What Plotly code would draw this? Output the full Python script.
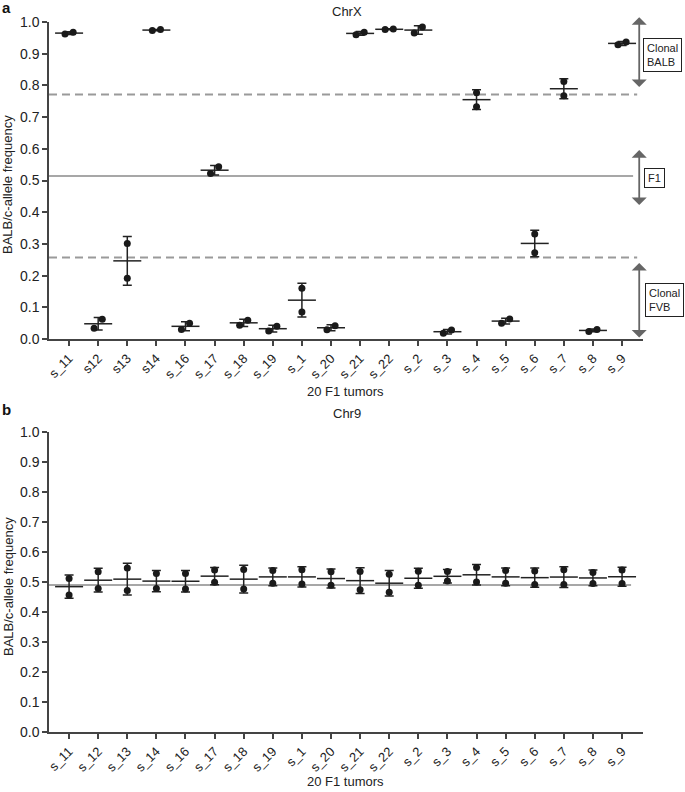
import numpy as np
import plotly.graph_objects as go

# ---- data (two replicate measurements per tumor) ----
tumors_chrx = ["s_11", "s12", "s13", "s14", "s_16", "s_17", "s_18", "s_19", "s_1", "s_20",
               "s_21", "s_22", "s_2", "s_3", "s_4", "s_5", "s_6", "s_7", "s_8", "s_9"]
tumors_chr9 = ["s_11", "s_12", "s_13", "s_14", "s_16", "s_17", "s_18", "s_19", "s_1", "s_20",
               "s_21", "s_22", "s_2", "s_3", "s_4", "s_5", "s_6", "s_7", "s_8", "s_9"]

chrx_rep1 = [0.962, 0.034, 0.192, 0.973, 0.030, 0.522, 0.043, 0.025, 0.085, 0.029,
             0.960, 0.976, 0.965, 0.018, 0.733, 0.050, 0.272, 0.767, 0.024, 0.928]
chrx_rep2 = [0.968, 0.062, 0.301, 0.976, 0.050, 0.543, 0.059, 0.040, 0.160, 0.042,
             0.968, 0.978, 0.984, 0.028, 0.777, 0.063, 0.331, 0.812, 0.030, 0.937]

chr9_rep1 = [0.457, 0.478, 0.472, 0.478, 0.477, 0.499, 0.477, 0.496, 0.493, 0.489,
             0.474, 0.466, 0.489, 0.503, 0.500, 0.496, 0.492, 0.492, 0.495, 0.495]
chr9_rep2 = [0.512, 0.534, 0.547, 0.528, 0.528, 0.540, 0.542, 0.538, 0.541, 0.534,
             0.535, 0.526, 0.536, 0.535, 0.548, 0.538, 0.537, 0.541, 0.532, 0.540]

# reference levels
chrx_fvb_cut = 0.257
chrx_f1 = 0.514
chrx_balb_cut = 0.771
chr9_f1 = 0.49

FONT = "Liberation Sans, Arial, Helvetica, sans-serif"
DARK = "#222222"
XR = [-0.69, 19.72]
W, H = 685, 792

fig = go.Figure()


def add_panel(rep1, rep2, xa, ya):
    r1 = np.array(rep1)
    r2 = np.array(rep2)
    idx = np.arange(len(r1))
    both = np.vstack([r1, r2])
    mean = both.mean(axis=0)
    sd = both.std(axis=0, ddof=1)
    # spread overlapping points sideways like a scatter-dot plot
    jit = np.where(np.abs(r2 - r1) < 0.031, 0.14, 0.0)
    fig.add_trace(go.Scatter(
        x=idx, y=mean, mode="markers", xaxis=xa, yaxis=ya,
        marker=dict(symbol="line-ew", size=20, line=dict(width=1.5, color=DARK)),
        error_y=dict(type="data", array=sd, visible=True, thickness=1.5,
                     width=4.5, color=DARK),
        showlegend=False, hoverinfo="skip"))
    fig.add_trace(go.Scatter(
        x=np.concatenate([idx - jit, idx + jit]), y=np.concatenate([r1, r2]),
        mode="markers", xaxis=xa, yaxis=ya,
        marker=dict(size=7, color="#1a1a1a"),
        showlegend=False, cliponaxis=False))


add_panel(chrx_rep1, chrx_rep2, "x", "y")
add_panel(chr9_rep1, chr9_rep2, "x2", "y2")

shapes = []
for lvl in [chrx_balb_cut, chrx_fvb_cut]:
    shapes.append(dict(type="line", xref="x", yref="y", x0=XR[0], x1=19.52, y0=lvl, y1=lvl,
                       line=dict(color="#9a9a9a", width=2, dash="8px,5px"), layer="below"))
shapes.append(dict(type="line", xref="x", yref="y", x0=XR[0], x1=19.38, y0=chrx_f1, y1=chrx_f1,
                   line=dict(color="#8a8a8a", width=1.5), layer="below"))
shapes.append(dict(type="line", xref="x2", yref="y2", x0=XR[0], x1=19.31, y0=chr9_f1, y1=chr9_f1,
                   line=dict(color="#8a8a8a", width=1.5), layer="below"))


def px(xp, yp):
    # pixel position -> paper coordinates
    return xp / W, 1 - yp / H


ann = []
# double-headed range arrows on the right of panel a
for top, bot in [(1.015, 0.79), (0.596, 0.418), (0.24, 0.0)]:
    ann.append(dict(xref="x", yref="y", axref="x", ayref="y", x=19.59, y=top, ax=19.59, ay=bot,
                    text="", showarrow=True, arrowside="end+start", arrowhead=1,
                    arrowsize=1.4, arrowwidth=1.8, arrowcolor="#666666"))


def label(txt, xp, yp, **kw):
    x, y = px(xp, yp)
    d = dict(xref="paper", yref="paper", x=x, y=y, text=txt, showarrow=False,
             xanchor="center", yanchor="middle")
    d.update(kw)
    ann.append(d)


for txt, xp, yp in [("Clonal<br>BALB", 662, 55), ("F1", 654, 178), ("Clonal<br>FVB", 664, 300)]:
    label(txt, xp, yp, align="left", bordercolor="#222", borderwidth=1, borderpad=3,
          bgcolor="white", font=dict(size=11, color=DARK, family=FONT))

for txt, yp in [("ChrX", 12), ("Chr9", 413)]:
    label(txt, 347, yp, font=dict(size=13, color=DARK, family=FONT))
for txt, yp in [("a", 7), ("b", 410)]:
    label("<b>" + txt + "</b>", 6, yp, font=dict(size=15, color="#111", family=FONT))
for yp in [185, 587]:
    label("BALB/c-allele frequency", 8, yp, textangle=-90,
          font=dict(size=13, color=DARK, family=FONT))
for yp in [391, 781]:
    label("20 F1 tumors", 345, yp, font=dict(size=13, color=DARK, family=FONT))

axis_common = dict(showline=True, linecolor="#444", linewidth=1.5, ticks="outside",
                   ticklen=5, tickwidth=1.5, tickcolor="#444", showgrid=False,
                   zeroline=False, automargin=False,
                   tickfont=dict(size=13, color=DARK, family=FONT))
yaxis_common = dict(axis_common, range=[0, 1.0], dtick=0.1, tick0=0, tickformat=".1f",
                    tickfont=dict(size=14, color=DARK, family=FONT))

fig.update_layout(
    width=W, height=H,
    margin=dict(l=0, r=0, t=0, b=0, autoexpand=False),
    paper_bgcolor="white", plot_bgcolor="white",
    xaxis=dict(axis_common, domain=[49 / W, 643 / W], range=XR, anchor="y",
               tickvals=list(range(len(tumors_chrx))), ticktext=tumors_chrx, tickangle=-45),
    yaxis=dict(yaxis_common, domain=[1 - 339 / H, 1 - 22 / H], anchor="x"),
    xaxis2=dict(axis_common, domain=[49 / W, 643 / W], range=XR, anchor="y2",
                tickvals=list(range(len(tumors_chr9))), ticktext=tumors_chr9, tickangle=-45),
    yaxis2=dict(yaxis_common, domain=[1 - 732 / H, 1 - 432 / H], anchor="x2"),
    shapes=shapes, annotations=ann,
)

fig.write_html("out.html", config={"displayModeBar": False},
               post_script="document.body.style.margin='0px';")
